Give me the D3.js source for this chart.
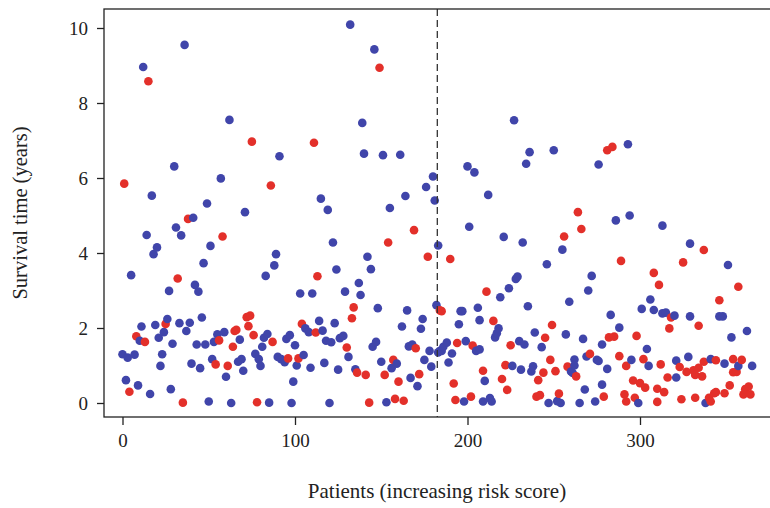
<!DOCTYPE html>
<html>
<head>
<meta charset="utf-8">
<script src="https://cdn.jsdelivr.net/npm/d3@7"></script>
<style>
  body { margin: 0; background: #fff; }
  text { font-family: "Liberation Serif", "DejaVu Serif", serif; fill: #222; }
</style>
</head>
<body>
<svg id="chart" width="770" height="508"></svg>
<script>
// Patient rank (increasing risk score), survival time in years, status (1 = dead, 0 = alive)
let patientRank = [
  0, 1, 2, 3, 4, 5, 7, 8, 9, 10, 11, 12, 13, 14, 15, 16, 17, 18, 19, 20,
  21, 22, 23, 24, 25, 26, 27, 28, 29, 30, 31, 32, 33, 34, 35, 36, 37, 38, 39, 40,
  41, 42, 43, 44, 45, 46, 47, 48, 49, 50, 51, 52, 53, 54, 55, 56, 57, 58, 59, 60,
  61, 62, 63, 64, 65, 66, 67, 68, 69, 70, 71, 72, 73, 74, 75, 76, 77, 78, 79, 80,
  81, 82, 83, 84, 85, 86, 87, 88, 89, 90, 91, 92, 94, 95, 96, 97, 98, 99, 100, 101,
  102, 103, 104, 105, 106, 108, 109, 110, 111, 112, 113, 114, 115, 116, 117, 118, 119, 120, 121, 122,
  123, 124, 125, 126, 128, 129, 130, 131, 132, 133, 134, 135, 136, 137, 138, 139, 140, 141, 142, 143,
  144, 145, 146, 147, 148, 149, 150, 151, 152, 153, 154, 155, 156, 157, 158, 159, 160, 161, 162, 163,
  164, 165, 166, 167, 168, 169, 170, 171, 172, 173, 174, 175, 176, 177, 178, 179, 180, 181, 182, 183,
  183, 184, 184, 185, 185, 186, 188, 189, 190, 191, 192, 193, 194, 195, 196, 197, 198, 199, 200, 201,
  202, 203, 204, 205, 206, 207, 207, 209, 209, 210, 211, 212, 213, 214, 215, 216, 217, 218, 219, 220,
  221, 222, 223, 224, 225, 226, 227, 228, 229, 230, 231, 232, 233, 234, 235, 236, 237, 238, 239, 240,
  241, 242, 243, 244, 245, 246, 247, 248, 249, 250, 251, 252, 253, 254, 255, 256, 257, 258, 259, 260,
  261, 262, 262, 263, 264, 265, 266, 267, 268, 269, 270, 271, 272, 274, 275, 276, 276, 278, 278, 279,
  281, 281, 282, 283, 284, 285, 286, 288, 288, 289, 291, 292, 292, 293, 294, 295, 296, 297, 298, 299,
  300, 301, 302, 303, 304, 305, 306, 308, 308, 310, 310, 311, 312, 313, 313, 314, 315, 316, 317, 318,
  320, 321, 321, 323, 324, 325, 327, 328, 329, 329, 331, 332, 332, 334, 334, 336, 337, 337, 338, 340,
  341, 341, 343, 344, 344, 346, 346, 348, 349, 349, 351, 352, 353, 354, 354, 356, 357, 357, 359, 360,
  361, 362, 363, 364, 365
];

let survivalYears = [
  1.30, 5.85, 0.61, 1.21, 0.30, 3.41, 1.29, 1.78, 0.47, 1.66, 2.04, 8.96, 1.63, 4.48, 8.58, 0.24, 5.53, 3.97, 2.08, 4.15,
  1.74, 0.99, 1.30, 1.89, 2.11, 2.24, 2.99, 0.37, 1.58, 6.31, 4.68, 3.32, 2.13, 4.47, 0.01, 9.55, 1.92, 4.91, 2.14, 1.05,
  4.94, 3.15, 1.56, 2.97, 0.93, 2.28, 3.73, 1.56, 5.32, 0.04, 4.19, 1.17, 1.63, 1.03, 1.83, 1.67, 5.99, 4.44, 1.89, 0.70,
  0.99, 7.55, 0.00, 1.50, 1.92, 1.95, 1.10, 1.69, 1.17, 0.86, 5.09, 2.29, 2.05, 2.33, 6.97, 1.81, 1.31, 0.02, 1.17, 0.99,
  1.50, 1.74, 3.39, 1.84, 0.01, 5.80, 1.63, 3.67, 3.97, 1.23, 6.58, 1.17, 1.09, 1.71, 1.19, 1.81, 0.00, 0.57, 1.54, 1.00,
  1.19, 2.92, 2.11, 1.28, 1.99, 1.89, 0.94, 2.92, 6.94, 1.88, 3.38, 2.19, 5.45, 1.93, 1.07, 1.66, 5.15, 0.00, 1.62, 4.28,
  2.13, 3.56, 0.89, 1.73, 1.79, 2.97, 1.48, 1.23, 10.09, 2.26, 2.55, 0.90, 0.81, 3.20, 2.88, 7.47, 6.65, 0.75, 3.90, 0.01,
  3.57, 1.50, 9.43, 1.63, 2.53, 8.94, 1.10, 6.61, 0.75, 0.02, 4.28, 5.20, 0.93, 1.15, 0.11, 1.05, 0.57, 6.62, 2.04, 0.06,
  5.52, 2.47, 1.51, 0.67, 1.56, 4.61, 1.46, 0.45, 0.77, 1.98, 2.24, 1.15, 5.76, 3.90, 1.39, 0.97, 6.04, 5.40, 2.61, 4.20,
  1.35, 1.39, 2.47, 2.45, 1.39, 1.50, 1.61, 1.08, 3.84, 1.32, 0.52, 0.08, 1.60, 2.10, 2.45, 2.45, 0.04, 1.65, 6.31, 4.70,
  0.17, 1.53, 6.15, 1.39, 2.54, 2.21, 1.43, 0.86, 0.04, 0.59, 2.97, 5.55, 0.13, 0.04, 2.19, 1.75, 1.86, 1.99, 2.82, 0.64,
  4.43, 1.01, 0.35, 3.06, 1.54, 0.99, 7.54, 3.31, 3.37, 1.65, 0.89, 4.28, 1.56, 6.38, 2.58, 6.69, 0.84, 0.98, 1.88, 0.17,
  0.61, 0.21, 1.49, 0.81, 1.74, 3.70, 0.00, 1.15, 2.08, 6.74, 0.85, 0.05, 0.25, 0.00, 4.09, 4.44, 1.83, 0.97, 2.70, 0.84,
  0.80, 1.16, 1.00, 0.71, 5.09, 0.00, 4.64, 1.71, 0.36, 1.24, 3.00, 1.31, 3.39, 0.04, 1.15, 1.12, 6.36, 1.56, 0.49, 0.17,
  6.74, 0.91, 1.75, 2.35, 6.83, 1.77, 4.87, 1.25, 2.01, 3.79, 0.23, 0.99, 0.04, 6.90, 5.00, 1.15, 0.60, 0.14, 1.79, 0.00,
  0.53, 2.51, 1.17, 0.41, 1.44, 0.99, 2.76, 2.48, 3.47, 0.38, 0.03, 3.15, 1.03, 4.73, 2.39, 0.29, 2.41, 0.68, 1.99, 2.28,
  2.33, 0.68, 1.13, 0.96, 0.10, 3.75, 0.83, 1.23, 2.31, 4.25, 0.87, 0.75, 0.14, 2.06, 0.94, 0.71, 4.08, 1.10, 0.00, 0.14,
  0.04, 1.17, 0.26, 0.29, 1.14, 2.74, 2.31, 2.31, 1.05, 0.26, 3.68, 0.47, 1.75, 0.82, 1.17, 0.83, 3.10, 0.99, 1.15, 0.23,
  0.37, 1.92, 0.44, 0.23, 0.99
];

let status = [
  0, 1, 0, 0, 1, 0, 0, 1, 0, 0, 0, 0, 1, 0, 1, 0, 0, 0, 0, 0,
  0, 0, 0, 0, 1, 0, 0, 0, 0, 0, 0, 1, 0, 0, 1, 0, 0, 1, 0, 0,
  0, 0, 0, 0, 0, 0, 0, 0, 0, 0, 0, 0, 0, 1, 0, 1, 0, 1, 0, 0,
  1, 0, 0, 1, 1, 1, 0, 0, 0, 0, 0, 1, 1, 1, 1, 1, 0, 1, 0, 0,
  0, 0, 0, 0, 0, 1, 1, 0, 0, 0, 0, 0, 0, 0, 1, 0, 0, 0, 0, 0,
  1, 0, 1, 0, 0, 0, 0, 0, 1, 1, 1, 0, 0, 0, 0, 0, 0, 0, 0, 0,
  0, 0, 0, 0, 0, 0, 1, 0, 0, 1, 1, 0, 1, 0, 0, 0, 0, 1, 0, 1,
  0, 0, 0, 0, 0, 1, 0, 0, 1, 0, 1, 0, 0, 1, 1, 0, 1, 0, 0, 1,
  0, 0, 0, 0, 0, 1, 1, 0, 1, 0, 0, 0, 0, 1, 0, 0, 0, 0, 0, 0,
  0, 0, 1, 1, 0, 0, 0, 0, 1, 0, 1, 1, 1, 0, 0, 0, 0, 0, 0, 0,
  1, 1, 0, 0, 0, 0, 0, 1, 0, 0, 1, 0, 0, 0, 1, 0, 0, 0, 0, 1,
  0, 1, 1, 0, 1, 0, 0, 0, 0, 0, 0, 0, 0, 0, 0, 0, 0, 0, 0, 1,
  1, 1, 0, 1, 1, 0, 0, 1, 1, 0, 1, 0, 1, 0, 0, 1, 0, 1, 0, 0,
  0, 0, 0, 1, 1, 0, 1, 0, 0, 0, 0, 1, 0, 0, 0, 0, 0, 0, 0, 1,
  1, 0, 1, 0, 1, 1, 0, 1, 0, 1, 1, 1, 1, 0, 0, 0, 1, 1, 1, 0,
  1, 0, 1, 1, 0, 0, 0, 0, 1, 1, 1, 1, 1, 0, 0, 1, 0, 1, 1, 1,
  0, 0, 0, 1, 1, 1, 1, 0, 0, 0, 1, 1, 1, 1, 1, 1, 1, 1, 0, 1,
  1, 0, 1, 1, 1, 1, 0, 0, 0, 1, 0, 1, 0, 1, 1, 1, 1, 0, 1, 1,
  1, 0, 1, 1, 0
];

// Ticks and cut-off (median risk score)
let xTicks = [0, 100, 200, 300];
let yTicks = [0, 2, 4, 6, 8, 10];
let cutoffRank = 182.5;

let colors = { 1: "#e3302a", 0: "#4045aa" };

let svg = d3.select("#chart");

// scales (plot box runs off the right edge of the picture)
let xScale = d3.scaleLinear().domain([0, 300]).range([122.5, 640]);
let yScale = d3.scaleLinear().domain([0, 10]).range([403, 28]);

let box = { left: 104, top: 9, bottom: 417, right: 790 };

// the points, drawn in rank order
let points = patientRank.map((r, i) => ({ rank: r, years: survivalYears[i], dead: status[i] }));

svg.append("g")
  .selectAll("circle")
  .data(points)
  .enter()
  .append("circle")
  .attr("cx", (d) => xScale(d.rank))
  .attr("cy", (d) => yScale(d.years))
  .attr("r", 4.3)
  .attr("fill", (d) => colors[d.dead]);

// dashed cut-off line
svg.append("line")
  .attr("x1", xScale(cutoffRank))
  .attr("x2", xScale(cutoffRank))
  .attr("y1", box.top)
  .attr("y2", box.bottom)
  .attr("stroke", "#333")
  .attr("stroke-width", 1.3)
  .attr("stroke-dasharray", "7,4");

// frame
svg.append("rect")
  .attr("x", box.left)
  .attr("y", box.top)
  .attr("width", box.right - box.left)
  .attr("height", box.bottom - box.top)
  .attr("fill", "none")
  .attr("stroke", "#222")
  .attr("stroke-width", 1.3);

// x axis
let xAxis = svg.append("g")
  .attr("transform", "translate(0," + box.bottom + ")")
  .call(d3.axisBottom(xScale).tickValues(xTicks).tickSize(8).tickPadding(9).tickFormat(d3.format("d")));
xAxis.select(".domain").remove();
xAxis.selectAll("line").attr("stroke", "#222").attr("stroke-width", 1.3);
xAxis.selectAll("text").style("font-size", "19px").attr("fill", "#222");

// y axis
let yAxis = svg.append("g")
  .attr("transform", "translate(" + box.left + ",0)")
  .call(d3.axisLeft(yScale).tickValues(yTicks).tickSize(7).tickPadding(9).tickFormat(d3.format("d")));
yAxis.select(".domain").remove();
yAxis.selectAll("line").attr("stroke", "#222").attr("stroke-width", 1.3);
yAxis.selectAll("text").style("font-size", "19px").attr("fill", "#222");

// axis titles
svg.append("text")
  .attr("x", 437)
  .attr("y", 498)
  .attr("text-anchor", "middle")
  .style("font-size", "21px")
  .text("Patients (increasing risk score)");

svg.append("text")
  .attr("transform", "translate(27,213) rotate(-90)")
  .attr("text-anchor", "middle")
  .style("font-size", "20.5px")
  .text("Survival time (years)");
</script>
</body>
</html>
